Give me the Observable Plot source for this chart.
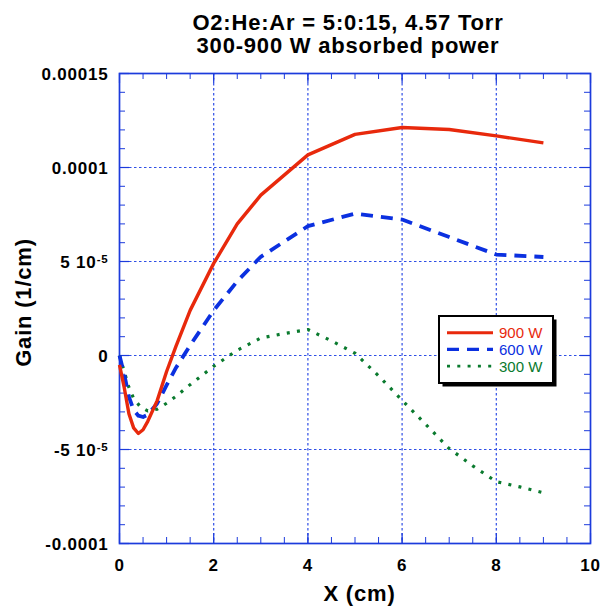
<!DOCTYPE html>
<html><head><meta charset="utf-8">
<script src="https://cdn.jsdelivr.net/npm/d3@7"></script>
<script src="https://cdn.jsdelivr.net/npm/@observablehq/plot@0.6"></script>
<style>
body{margin:0;background:#fff;}
#chart{position:relative;width:602px;height:606px;font-family:"Liberation Sans",Arial,Helvetica,sans-serif;}
#chart svg.legend{position:absolute;left:0;top:0;}
</style></head><body><div id="chart"></div>
<script>
// ---- data (gain values in units of 1e-5 1/cm) ----
const titleLines = ["O2:He:Ar = 5:0:15, 4.57 Torr", "300-900 W absorbed power"];
const xLabel = "X (cm)";
const yLabel = "Gain (1/cm)";
const seriesNames = ["900 W", "600 W", "300 W"];

const x900 = [0, 0.1, 0.2, 0.3, 0.4, 0.5, 0.6, 0.8, 1.0, 1.2, 1.5, 2.0, 2.5, 3, 4, 5, 6, 7, 8, 9];
const gain900 = [-0.5, -1.7, -3.1, -3.85, -4.15, -3.95, -3.5, -2.4, -0.85, 0.5, 2.4, 4.9, 7.0, 8.53, 10.67, 11.76, 12.13, 12.02, 11.68, 11.31];

const x600 = [0, 0.1, 0.2, 0.3, 0.4, 0.5, 0.6, 0.8, 1.0, 1.2, 1.5, 2, 2.5, 3, 4, 5, 6, 7, 8, 9];
const gain600 = [0, -1.0, -2.2, -2.9, -3.2, -3.27, -3.15, -2.55, -1.58, -0.65, 0.54, 2.4, 3.95, 5.25, 6.88, 7.55, 7.23, 6.3, 5.37, 5.24];

const x300 = [0, 0.1, 0.2, 0.3, 0.45, 0.6, 0.8, 1.0, 1.2, 1.5, 2, 2.5, 3, 3.5, 4, 4.5, 5, 5.5, 6, 6.5, 7, 7.5, 8, 8.5, 9];
const gain300 = [0, -0.85, -1.7, -2.29, -2.75, -2.95, -2.85, -2.54, -2.17, -1.55, -0.57, 0.28, 0.93, 1.17, 1.38, 0.78, 0.12, -1.08, -2.38, -3.66, -4.95, -5.87, -6.71, -6.99, -7.3];

const xTicks = [0, 2, 4, 6, 8, 10];
const xTickLabels = ["0", "2", "4", "6", "8", "10"];
const yTicks = [-10, -5, 0, 5, 10, 15];
const yTickLabels = ["-0.0001", "-5 10^-5", "0", "5 10^-5", "0.0001", "0.00015"];

// ---- styles ----
const colors = ["#e8290c", "#0b30e0", "#0a7a2e"];
const dashes = [null, "12,8", "3,7.3"];
const widths = [3.4, 3.8, 3.2];
const axisColor = "#1c3bdc";
const gridColor = "#2f4fe6";

const W = 602, H = 606, mL = 119, mR = 12, mT = 73, mB = 63;
const fw = W - mL - mR, fh = H - mT - mB;

const series = [
  {name: seriesNames[0], xs: x900, gs: gain900},
  {name: seriesNames[1], xs: x600, gs: gain600},
  {name: seriesNames[2], xs: x300, gs: gain300}
];
const rows = s => s.xs.map((x, i) => ({x, g: s.gs[i]}));

const xMinor = d3.range(0, 10.001, 0.5);
const yMinor = d3.range(-10, 15.001, 1);
const xGrid = xTicks.slice(1, -1);
const yGrid = yTicks.slice(1, -1);

const bold = {fontWeight: "bold", fill: "black"};

const lineMarks = [2, 1, 0].map(i => Plot.line(rows(series[i]), {
  x: "x", y: "g", stroke: colors[i], strokeWidth: widths[i],
  strokeDasharray: dashes[i] || undefined, strokeLinejoin: "round", strokeLinecap: "butt"
}));

const svg = Plot.plot({
  width: W, height: H,
  marginLeft: mL, marginRight: mR, marginTop: mT, marginBottom: mB,
  style: {fontFamily: '"Liberation Sans", Arial, Helvetica, sans-serif', background: "white", overflow: "visible"},
  x: {domain: [0, 10], axis: null},
  y: {domain: [-10, 15], axis: null},
  marks: [
    Plot.ruleX(xGrid, {x: d => d, stroke: gridColor, strokeWidth: 1.2, strokeDasharray: "2.5,2.5"}),
    Plot.ruleY(yGrid, {y: d => d, stroke: gridColor, strokeWidth: 1.2, strokeDasharray: "2.5,2.5"}),
    // inner minor ticks
    Plot.tickY(yMinor, {y: d => d, stroke: axisColor, strokeWidth: 1, insetRight: fw - 6}),
    Plot.tickY(yMinor, {y: d => d, stroke: axisColor, strokeWidth: 1, insetLeft: fw - 6}),
    Plot.tickX(xMinor, {x: d => d, stroke: axisColor, strokeWidth: 1, insetTop: fh - 6}),
    Plot.tickX(xMinor, {x: d => d, stroke: axisColor, strokeWidth: 1, insetBottom: fh - 6}),
    // inner major ticks
    Plot.tickY(yTicks, {y: d => d, stroke: axisColor, strokeWidth: 1.2, insetRight: fw - 10}),
    Plot.tickY(yTicks, {y: d => d, stroke: axisColor, strokeWidth: 1.2, insetLeft: fw - 10}),
    Plot.tickX(xTicks, {x: d => d, stroke: axisColor, strokeWidth: 1.2, insetTop: fh - 10}),
    Plot.tickX(xTicks, {x: d => d, stroke: axisColor, strokeWidth: 1.2, insetBottom: fh - 10}),
    Plot.frame({stroke: axisColor, strokeWidth: 1.7}),
    ...lineMarks,
    // tick labels
    Plot.text(yTicks, {y: d => d, text: (d, i) => yTickLabels[i], frameAnchor: "left", textAnchor: "end", lineAnchor: "middle", dx: -11, dy: 1.5, fontSize: 17, ...bold}),
    Plot.text(xTicks, {x: d => d, text: (d, i) => xTickLabels[i], frameAnchor: "bottom", textAnchor: "middle", lineAnchor: "top", dy: 15, fontSize: 17, ...bold}),
    // axis titles
    Plot.text([yLabel], {frameAnchor: "left", textAnchor: "middle", lineAnchor: "middle", rotate: -90, dx: -96, dy: -6, fontSize: 22, ...bold}),
    Plot.text([xLabel], {frameAnchor: "bottom", textAnchor: "middle", lineAnchor: "middle", dx: 4.5, dy: 50, fontSize: 22, ...bold}),
    // two-line title
    Plot.text([titleLines.join("\n")], {frameAnchor: "top", textAnchor: "middle", lineAnchor: "top", lineHeight: 1.04, dx: -7, dy: -60, fontSize: 22, ...bold})
  ]
});

// widen bold labels slightly (reference typeface is a little wider)
d3.select(svg).selectAll("text").filter(function () {
  return getComputedStyle(this).fontWeight === "700" || this.closest("[font-weight='bold']");
}).attr("letter-spacing", "0.8px");

// superscript exponents in tick labels like "5 10^-5"
d3.select(svg).selectAll("text").each(function () {
  const m = this.textContent.match(/^(-?\d+) 10\^(-?\d+)$/);
  if (m) {
    this.textContent = "";
    const t = d3.select(this);
    t.append("tspan").text(m[1] + " 10");
    t.append("tspan").attr("dy", "-0.45em").attr("font-size", "0.68em").text(m[2]);
  }
});

const chart = document.getElementById("chart");
chart.appendChild(svg);

// legend overlay
const lg = {left: 439, top: 316, w: 114, h: 67, shadow: 3.5, x1: 447, x2: 493, tx: 499, y0: 332.7, dy: 16.7};
const leg = d3.create("svg").attr("class", "legend").attr("width", W).attr("height", H);
leg.append("rect").attr("x", lg.left + lg.shadow).attr("y", lg.top + lg.shadow).attr("width", lg.w).attr("height", lg.h).attr("fill", "black");
leg.append("rect").attr("x", lg.left).attr("y", lg.top).attr("width", lg.w).attr("height", lg.h).attr("fill", "white").attr("stroke", "black").attr("stroke-width", 2);
series.forEach((s, i) => {
  const y = lg.y0 + i * lg.dy;
  leg.append("line").attr("x1", lg.x1).attr("x2", lg.x2).attr("y1", y).attr("y2", y)
    .attr("stroke", colors[i]).attr("stroke-width", widths[i] * 0.85)
    .attr("stroke-dasharray", dashes[i] || null);
  leg.append("text").attr("x", lg.tx).attr("y", y).attr("dy", "0.36em")
    .attr("font-family", '"Liberation Sans", Arial, sans-serif').attr("font-size", 15)
    .attr("fill", colors[i]).text(s.name);
});
chart.appendChild(leg.node());
</script>
</body></html>
